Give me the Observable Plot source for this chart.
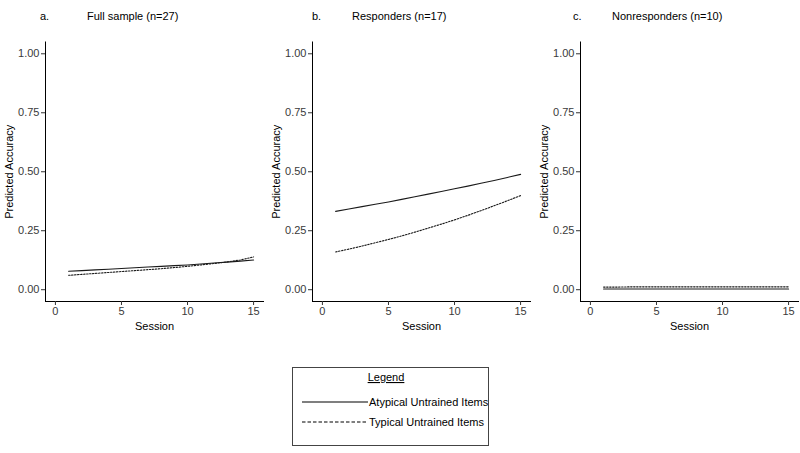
<!DOCTYPE html>
<html>
<head>
<meta charset="utf-8">
<script src="https://cdn.jsdelivr.net/npm/d3@7"></script>
<script src="https://cdn.jsdelivr.net/npm/@observablehq/plot@0.6"></script>
<style>
  body { margin: 0; background: #fff; font-family: "Liberation Sans", Arial, sans-serif; }
  #wrap { position: relative; width: 800px; height: 453px; overflow: hidden; }
  .panel { position: absolute; top: 0; }
  .ttl { position: absolute; font-size: 11px; color: #000; white-space: nowrap; }
  #legend { position: absolute; left: 292px; top: 367px; width: 197px; height: 79px; border: 1px solid #444; box-sizing: border-box; }
</style>
</head>
<body>
<div id="wrap"></div>
<script>
const sessions = [1,2,3,4,5,6,7,8,9,10,11,12,13,14,15];
const panelLetters = ["a.", "b.", "c."];
const panelTitles = ["Full sample (n=27)", "Responders (n=17)", "Nonresponders (n=10)"];
const seriesNames = ["Atypical Untrained Items", "Typical Untrained Items"];

// Full sample
const fullAtypical = [0.078,0.081,0.084,0.087,0.090,0.093,0.096,0.099,0.102,0.105,0.109,0.113,0.117,0.121,0.126];
const fullTypical  = [0.061,0.065,0.069,0.073,0.077,0.081,0.085,0.089,0.094,0.099,0.105,0.111,0.118,0.126,0.139];
// Responders
const respAtypical = [0.332,0.342,0.352,0.362,0.372,0.383,0.394,0.405,0.416,0.428,0.439,0.451,0.463,0.476,0.489];
const respTypical  = [0.160,0.172,0.185,0.199,0.213,0.228,0.244,0.261,0.278,0.296,0.315,0.335,0.356,0.377,0.399];
// Nonresponders
const nonAtypical  = [0.003,0.003,0.003,0.003,0.003,0.003,0.003,0.003,0.003,0.003,0.003,0.003,0.003,0.003,0.003];
const nonTypical   = [0.011,0.011,0.012,0.012,0.012,0.012,0.012,0.012,0.012,0.012,0.012,0.012,0.012,0.012,0.012];

const xTicks = [0,5,10,15];
const yTicks = [0,0.25,0.5,0.75,1];

const panelData = [
  [fullAtypical, fullTypical],
  [respAtypical, respTypical],
  [nonAtypical, nonTypical]
];

const wrap = document.getElementById("wrap");
const lefts = [0, 267, 535];
const titleLetterX = [40, 312, 573];
const titleTextX = [87, 352, 612];

panelData.forEach((pair, i) => {
  const rows = [];
  pair.forEach((vals, s) => {
    sessions.forEach((x, j) => rows.push({session: x, acc: vals[j], type: seriesNames[s]}));
  });
  const chart = Plot.plot({
    width: 267,
    height: 340,
    marginLeft: 45,
    marginRight: 4,
    marginTop: 41.5,
    marginBottom: 39,
    style: {fontFamily: "Liberation Sans, Arial, sans-serif", fontSize: "11px", background: "transparent"},
    x: {domain: [-0.75, 15.75], ticks: xTicks, tickSize: 4, tickPadding: 2, line: true, label: null},
    y: {domain: [-0.05, 1.05], ticks: yTicks, tickSize: 4, tickPadding: 2, tickFormat: d3.format(".2f"), line: true, label: null},
    marks: [
      Plot.line(rows.filter(d => d.type === seriesNames[0]), {x: "session", y: "acc", stroke: "#1a1a1a", strokeWidth: 1.1}),
      Plot.line(rows.filter(d => d.type === seriesNames[1]), {x: "session", y: "acc", stroke: "#1a1a1a", strokeWidth: 1.1, strokeDasharray: "1.5,1.5"}),
      Plot.text(["Session"], {frameAnchor: "bottom", dy: 25, lineAnchor: "middle", fontSize: 11, fill: "#000"}),
      Plot.text(["Predicted Accuracy"], {frameAnchor: "left", dx: -36, rotate: -90, lineAnchor: "middle", textAnchor: "middle", fontSize: 11, fill: "#000"})
    ]
  });
  chart.classList.add("panel");
  chart.style.left = lefts[i] + "px";
  d3.select(chart).selectAll("[aria-label='x-axis tick label'] text, [aria-label='y-axis tick label'] text").attr("fill", "#3a3a3a");
  d3.select(chart).selectAll("[aria-label='x-axis tick'], [aria-label='y-axis tick']").attr("stroke", "#333");
  wrap.appendChild(chart);

  const l = document.createElement("div");
  l.className = "ttl"; l.style.left = titleLetterX[i] + "px"; l.style.top = "10px"; l.textContent = panelLetters[i];
  wrap.appendChild(l);
  const t = document.createElement("div");
  t.className = "ttl"; t.style.left = titleTextX[i] + "px"; t.style.top = "10px"; t.textContent = panelTitles[i];
  wrap.appendChild(t);
});

// Legend
const leg = document.createElement("div");
leg.id = "legend";
wrap.appendChild(leg);
const svg = d3.select(leg).append("svg").attr("width", 195).attr("height", 77)
  .style("font-family", "Liberation Sans, Arial, sans-serif").style("font-size", "11px");
svg.append("text").attr("x", 93).attr("y", 13).attr("text-anchor", "middle").attr("text-decoration", "underline").text("Legend");
const dashes = [null, "3.5,2"];
seriesNames.forEach((name, k) => {
  const y = 34 + k * 20;
  const ln = svg.append("line").attr("x1", 9).attr("x2", 75).attr("y1", y).attr("y2", y).attr("stroke", "#000").attr("stroke-width", 1.2);
  if (dashes[k]) ln.attr("stroke-dasharray", dashes[k]);
  svg.append("text").attr("x", 76).attr("y", y).attr("dy", "0.35em").text(name);
});
</script>
</body>
</html>
